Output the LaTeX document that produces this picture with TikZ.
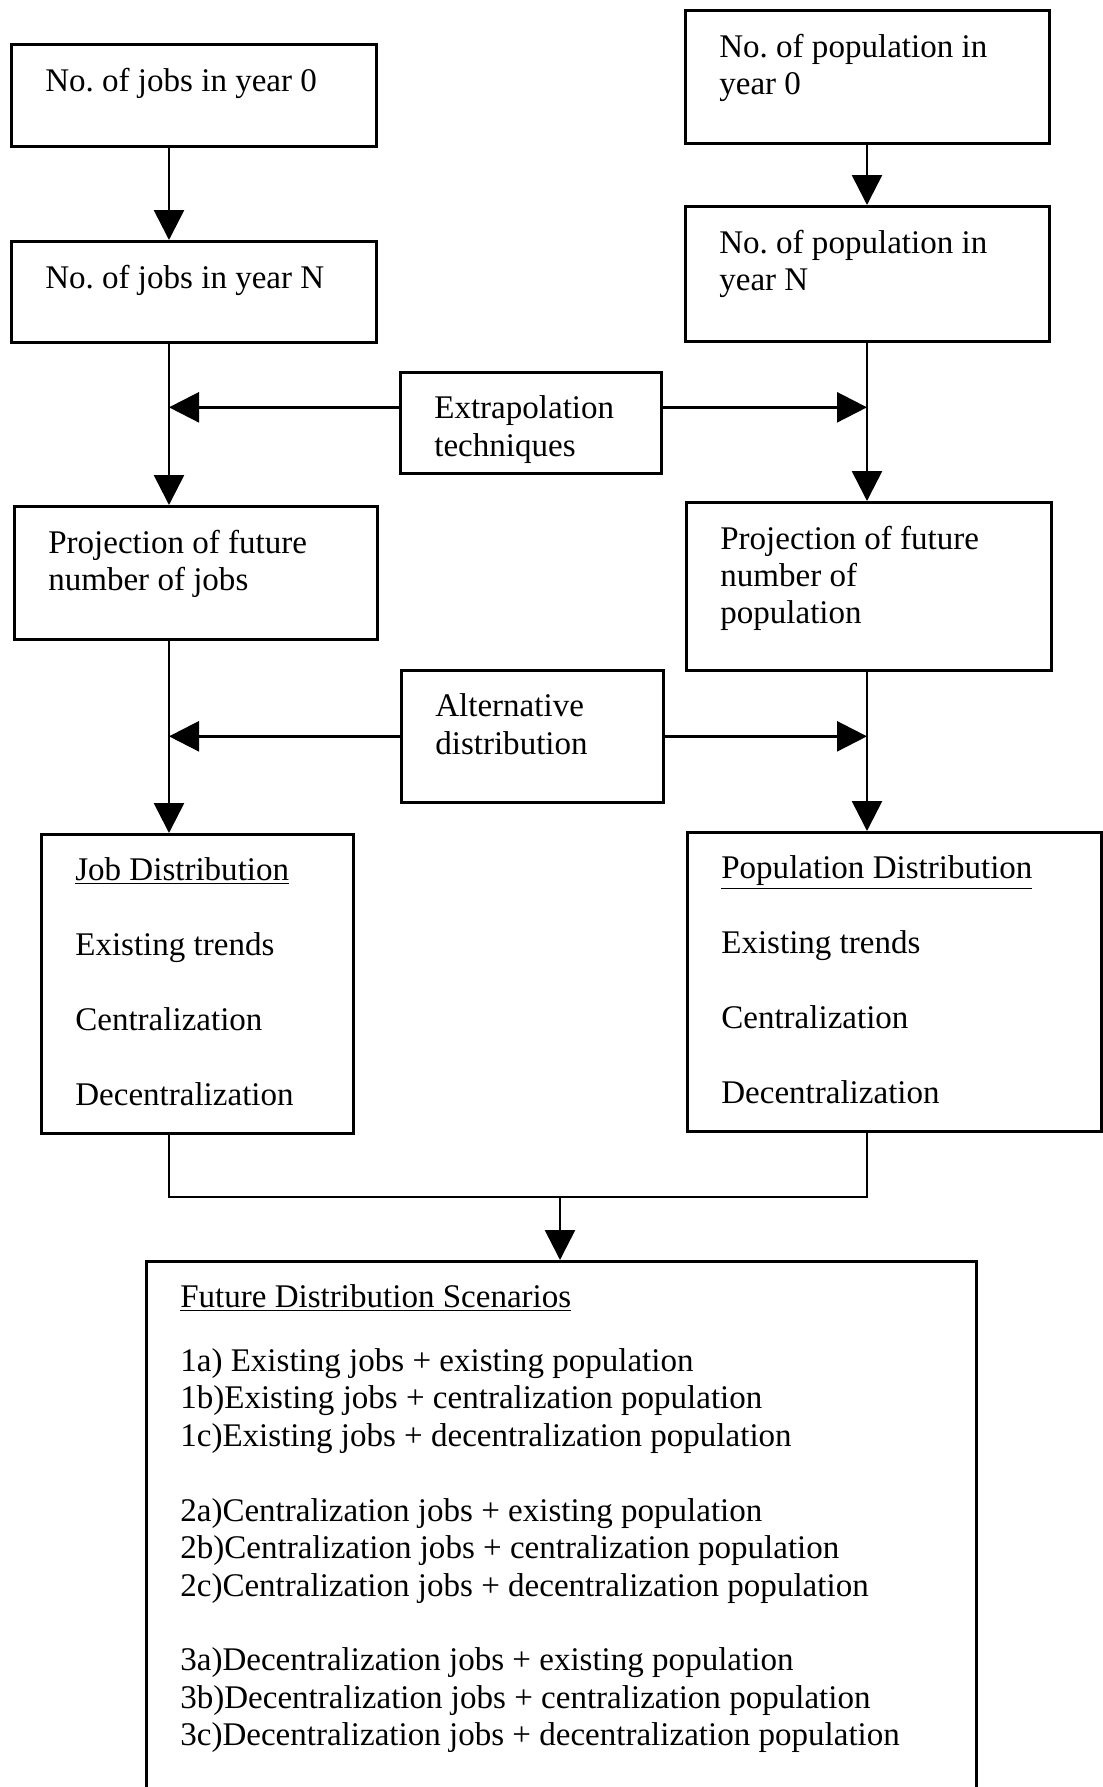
\documentclass[tikz,border=0pt]{standalone}
\usepackage{fontspec}
\setmainfont{Liberation Serif}
\usetikzlibrary{arrows.meta}
\tikzset{>={Triangle[length=0.6cm,width=0.6cm]}}
\newcommand{\boxtext}[3]{\parbox[c][#1][t]{#2}{#3}}
\frenchspacing

\tikzset{
  box/.style={draw, line width=1.5pt, anchor=north west,
    inner xsep=0.68cm, inner ysep=0.47cm,
    font=\fontsize{18.8}{21.3}\selectfont},
  link/.style={line width=1.5pt}
}

\begin{document}
\begin{tikzpicture}[x=0.2mm, y=-0.2mm]
    \useasboundingbox (0,0) rectangle (1102,1787);

    \coordinate (jcol) at (169, 0);
    \coordinate (pcol) at (867, 0);
    \coordinate (merge) at (560, 1197);

    % jobs column
    \node [box] (jobs0) at (10, 43)
    {\boxtext{1.10cm}{5.94cm}{No. of jobs in year 0}};
    \node [box] (jobsN) at (10, 240)
    {\boxtext{1.08cm}{5.94cm}{No. of jobs in year N}};
    \node [box] (projJobs) at (13, 505)
    {\boxtext{1.72cm}{5.90cm}{Projection of future\\ number of jobs}};
    \node [box] (jobDist) at (40, 833)
    {\boxtext{5.04cm}{4.88cm}{\underline{Job Distribution}\\[\baselineskip]
    Existing trends\\[\baselineskip] Centralization\\[\baselineskip]
    Decentralization}};

    % population column
    \node [box] (pop0) at (684, 9)
    {\boxtext{1.72cm}{5.92cm}{No. of population in\\ year 0}};
    \node [box] (popN) at (684, 205)
    {\boxtext{1.76cm}{5.92cm}{No. of population in\\ year N}};
    \node [box] (projPop) at (685, 501)
    {\boxtext{2.42cm}{5.94cm}{Projection of future\\ number of\\ population}};
    \node [box] (popDist) at (686, 831)
    {\boxtext{5.04cm}{6.92cm}{\underline{Population Distribution}\\[\baselineskip]
    Existing trends\\[\baselineskip] Centralization\\[\baselineskip]
    Decentralization}};

    % middle boxes
    \node [box] (extrap) at (399, 371)
    {\boxtext{1.08cm}{3.86cm}{Extrapolation\\ techniques}};
    \node [box] (alt) at (400, 669)
    {\boxtext{1.70cm}{3.88cm}{Alternative\\ distribution}};

    \node [box] (future) at (145, 1260)
    {\boxtext{9.86cm}{15.24cm}{\underline{Future Distribution Scenarios}\\[15pt]
    1a) Existing jobs + existing population\\
    1b)Existing jobs + centralization population\\
    1c)Existing jobs + decentralization population\\[\baselineskip]
    2a)Centralization jobs + existing population\\
    2b)Centralization jobs + centralization population\\
    2c)Centralization jobs + decentralization population\\[\baselineskip]
    3a)Decentralization jobs + existing population\\
    3b)Decentralization jobs + centralization population\\
    3c)Decentralization jobs + decentralization population}};

    \draw [link,->] (jobs0.south -| jcol) -- (jobsN.north -| jcol);
    \draw [link,->] (jobsN.south -| jcol) -- (projJobs.north -| jcol);
    \draw [link,->] (projJobs.south -| jcol) -- (jobDist.north -| jcol);

    \draw [link,->] (pop0.south -| pcol) -- (popN.north -| pcol);
    \draw [link,->] (popN.south -| pcol) -- (projPop.north -| pcol);
    \draw [link,->] (projPop.south -| pcol) -- (popDist.north -| pcol);

    \draw [link,->] ([yshift=0.31cm]extrap.west) -- ([yshift=0.31cm]extrap.west -| jcol);
    \draw [link,->] ([yshift=0.31cm]extrap.east) -- ([yshift=0.31cm]extrap.east -| pcol);
    \draw [link,->] (alt.west) -- (alt.west -| jcol);
    \draw [link,->] (alt.east) -- (alt.east -| pcol);

    \draw [link] (jobDist.south -| jcol) -- (jcol |- merge)
      -- (pcol |- merge) -- (popDist.south -| pcol);
    \draw [link,->] (merge) -- (merge |- future.north);

  \end{tikzpicture}
\end{document}
